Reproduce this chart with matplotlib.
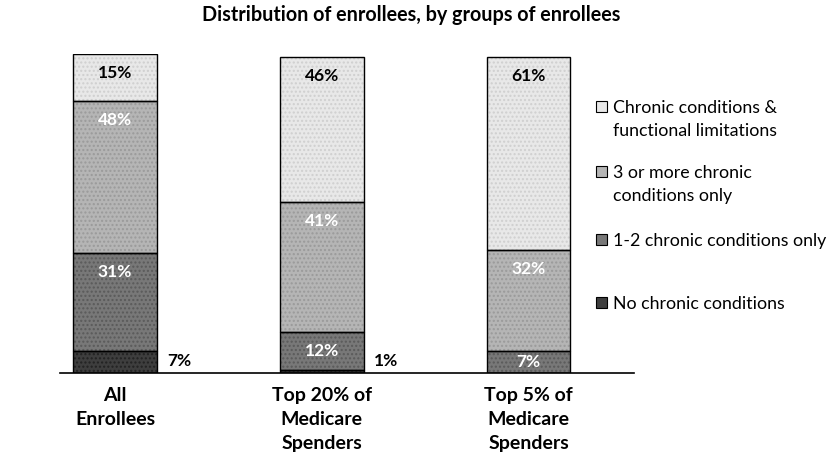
import matplotlib
matplotlib.use("Agg")
import matplotlib.pyplot as plt
from matplotlib.patches import Rectangle

categories = ["All\nEnrollees", "Top 20% of\nMedicare\nSpenders", "Top 5% of\nMedicare\nSpenders"]
series_names = ["No chronic conditions", "1-2 chronic conditions only",
                "3 or more chronic\nconditions only", "Chronic conditions &\nfunctional limitations"]
no_chronic = [7, 1, 0]
one_two = [31, 12, 7]
three_plus = [48, 41, 32]
functional = [15, 46, 61]

series = [no_chronic, one_two, three_plus, functional]
colors = ["#3e3e3e", "#787878", "#b5b5b5", "#e8e8e8"]
speckle = ["#222222", "#5a5a5a", "#9a9a9a", "#cfcfcf"]
label_colors = ["black", "white", "white", "black"]

plt.rcParams['font.family'] = ['Lato', 'DejaVu Sans']

fig = plt.figure(figsize=(8.31, 4.58), dpi=100)
ax = fig.add_axes([60/831, 85/458, (634-60)/831, (373-54)/458])

x = list(range(len(categories)))
bottoms = [0]*len(categories)
width = 0.405
for si, vals in enumerate(series):
    ax.bar(x, vals, width, bottom=bottoms, color=colors[si], edgecolor=speckle[si],
           linewidth=0, hatch="....", zorder=2)
    ax.bar(x, vals, width, bottom=bottoms, fill=False, edgecolor="black",
           linewidth=1.0, zorder=3)
    for i, v in enumerate(vals):
        if v <= 0:
            continue
        top = bottoms[i] + v
        if si == 0:
            if v < 5 or i == 0:
                ax.text(i + width/2 + 0.05, bottoms[i] + max(v/2, 3.5) + 0.4, f"{v}%",
                        ha="left", va="center", fontsize=12.5, fontweight="bold",
                        color="black", zorder=4)
            else:
                ax.text(i, bottoms[i] + v/2, f"{v}%", ha="center", va="center",
                        fontsize=12.5, fontweight="bold", color="white", zorder=4)
        else:
            y = top - min(6.0, v/2)
            ax.text(i, y, f"{v}%", ha="center", va="center", fontsize=12.5,
                    fontweight="bold", color=label_colors[si], zorder=4)
    bottoms = [b + v for b, v in zip(bottoms, vals)]

ax.set_xlim(-0.266, 2.51)
ax.set_ylim(0, 101)
for s in ["top", "right", "left"]:
    ax.spines[s].set_visible(False)
ax.spines["bottom"].set_linewidth(1.2)
ax.set_yticks([])
ax.set_xticks(x)
ax.set_xticklabels(categories, fontsize=14, fontweight="bold", linespacing=1.5)
ax.tick_params(axis="x", length=0, pad=10)

fig.text(411/831, 1 - 15/458, "Distribution of enrollees, by groups of enrollees",
         ha="center", va="center", fontsize=14.2, fontweight="bold")

# legend
leg_order = [3, 2, 1, 0]
leg_y = [107, 172, 240, 303]
for k, si in enumerate(leg_order):
    yc = leg_y[k]
    fig.patches.append(Rectangle((596/831, 1 - (yc + 5)/458), 11/831, 11/458,
                                 transform=fig.transFigure, facecolor=colors[si],
                                 edgecolor="black", linewidth=0.8))
    fig.text(613/831, 1 - (yc - 7)/458, series_names[si], ha="left", va="top",
             fontsize=12.8, linespacing=1.52)

fig.savefig("out.png", dpi=100)
